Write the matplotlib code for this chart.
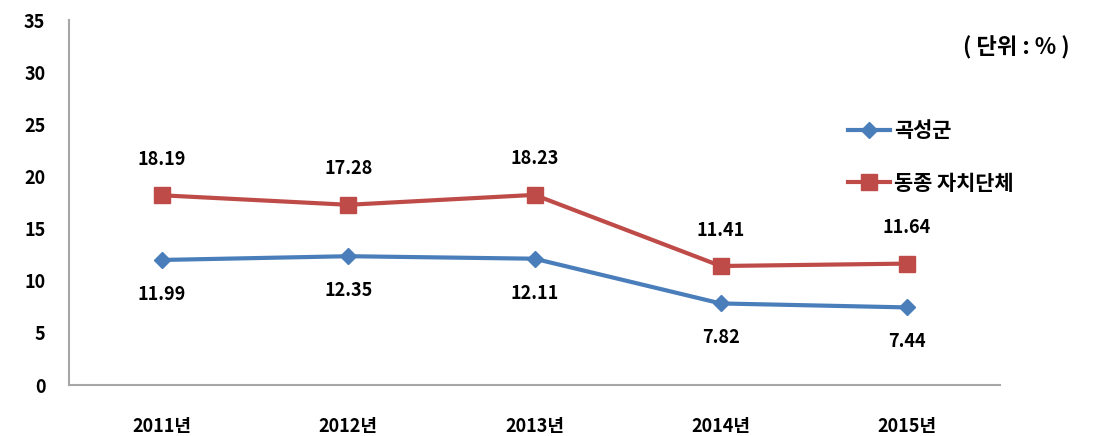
import numpy as np
import matplotlib.pyplot as plt

plt.rcParams['font.family'] = ['Noto Sans CJK KR', 'DejaVu Sans']

years = ["2011년", "2012년", "2013년", "2014년", "2015년"]
gokseong = [11.99, 12.35, 12.11, 7.82, 7.44]
peer_group = [18.19, 17.28, 18.23, 11.41, 11.64]
series_names = ["곡성군", "동종 자치단체"]
unit_label = "( 단위 : % )"

blue = "#4A7EBB"
red = "#BE4B48"

fig = plt.figure(figsize=(10.95, 4.36), dpi=100)
ax = fig.add_axes([69 / 1095, 1 - 385 / 436, (1000 - 69) / 1095, (385 - 20) / 436])

x = np.arange(len(years))
ax.plot(x, gokseong, color=blue, lw=3, marker="D", ms=8, mfc=blue, mec=blue,
        label=series_names[0])
ax.plot(x, peer_group, color=red, lw=3, marker="s", ms=11, mfc=red, mec=red,
        label=series_names[1])

for xi, v in zip(x, gokseong):
    ax.annotate(f"{v:.2f}", (xi, v), xytext=(0, -18), textcoords="offset points",
                ha="center", va="top", fontsize=13, fontweight="bold")
for xi, v in zip(x, peer_group):
    ax.annotate(f"{v:.2f}", (xi, v), xytext=(0, 19), textcoords="offset points",
                ha="center", va="bottom", fontsize=13, fontweight="bold")

ax.set_xlim(-0.5, len(years) - 0.5)
ax.set_ylim(0, 35)
ax.set_yticks(range(0, 36, 5))
ax.set_xticks(x)
ax.set_xticklabels(years, fontsize=13, fontweight="bold")
for t in ax.get_yticklabels():
    t.set_fontsize(13)
    t.set_fontweight("bold")
ax.tick_params(axis="both", length=0)
ax.tick_params(axis="x", pad=23)
ax.tick_params(axis="y", pad=17)

for s in ["top", "right"]:
    ax.spines[s].set_visible(False)
for s in ["left", "bottom"]:
    ax.spines[s].set_color("#A6A6A6")
    ax.spines[s].set_linewidth(1.5)

fig.text(1070 / 1095, 1 - 48 / 436, unit_label, ha="right", va="center",
         fontsize=16, fontweight="bold")
leg = fig.legend(loc="upper left", bbox_to_anchor=(840 / 1095, 1 - 112 / 436),
                 frameon=False, fontsize=15, handlelength=2.0,
                 labelspacing=1.5, handletextpad=0.2, borderaxespad=0)
for t in leg.get_texts():
    t.set_fontweight("bold")

fig.savefig("out.png", dpi=100)
